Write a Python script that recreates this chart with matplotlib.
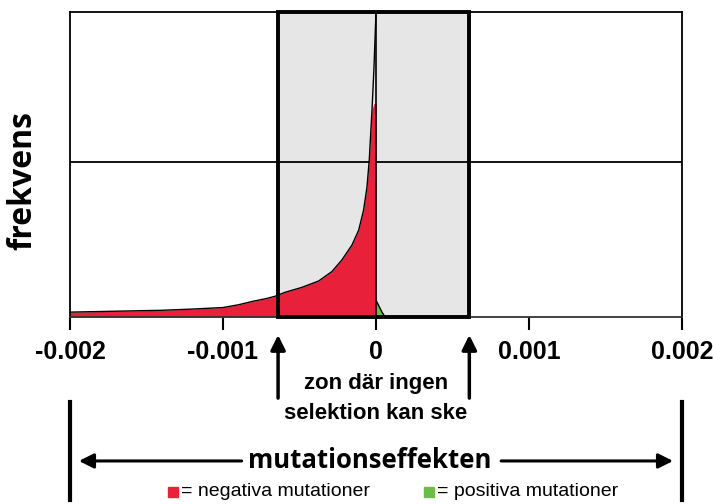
import matplotlib.pyplot as plt
import numpy as np
from matplotlib.patches import Rectangle

# negative mutation effects (left tail)
x_neg = [-0.002, -0.0018, -0.0016, -0.0014, -0.0012, -0.001, -0.0009,
         -0.0008, -0.00072, -0.00066, -0.000594, -0.000485, -0.000375,
         -0.000288, -0.000223, -0.000157, -0.000113, -0.000081, -0.000059,
         -0.000044, -0.000026, -0.000013, 0.0]
y_neg = [0.016, 0.018, 0.020, 0.022, 0.026, 0.031, 0.040,
         0.052, 0.060, 0.068, 0.081, 0.097, 0.118,
         0.149, 0.187, 0.236, 0.285, 0.351, 0.426,
         0.515, 0.68, 0.82, 1.0]
# the tiny positive part
x_pos = [0.0, 0.00002, 0.00004, 0.00006]
y_pos = [0.055, 0.035, 0.015, 0.0]

red_cap = 0.70              # red fill stops here, outline keeps going
zone = (-0.00064, 0.00061)  # zone where no selection can happen
grid_y = 0.508

ticks = [-0.002, -0.001, 0, 0.001, 0.002]
tick_labels = ['-0.002', '-0.001', '0', '0.001', '0.002']

red = '#e8203a'
green = '#6cbd45'

fig = plt.figure(figsize=(7.13, 5.04), dpi=100)
ax = fig.add_axes([70 / 713, 187 / 504, 612 / 713, 305 / 504])
ax.set_xlim(-0.002, 0.002)
ax.set_ylim(0, 1)

# grey zone with thick frame
ax.axvspan(zone[0], zone[1], color='#e6e6e6', zorder=0)
ax.add_patch(Rectangle((zone[0], 0), zone[1] - zone[0], 1, fill=False,
                       edgecolor='black', lw=2.8, zorder=5, clip_on=False))

ax.axhline(grid_y, color='black', lw=1.3, zorder=1)
ax.axvline(0, color='black', lw=1.2, zorder=4)

ax.fill_between(x_neg, 0, np.minimum(y_neg, red_cap), color=red, lw=0, zorder=2)
ax.fill_between(x_pos, 0, y_pos, color=green, lw=0, zorder=2)
ax.plot(x_neg, y_neg, color='black', lw=1.0, zorder=3)
ax.plot(x_pos, y_pos, color='black', lw=1.0, zorder=3)

for s in ax.spines.values():
    s.set_linewidth(1.3)
ax.spines['bottom'].set_color('#333333')

ax.set_yticks([])
ax.set_xticks(ticks)
ax.set_xticklabels(tick_labels, fontsize=18, fontweight='bold',
                   family='Liberation Sans')
ax.tick_params(axis='x', direction='out', length=9.5, width=1.5, pad=7)

tr = ax.get_xaxis_transform()

# arrows pointing at the zone edges
for xe in zone:
    ax.annotate('', xy=(xe, -0.05), xytext=(xe, -0.275), xycoords=tr,
                textcoords=tr, annotation_clip=False,
                arrowprops=dict(arrowstyle='-|>', color='black', lw=2.5,
                                mutation_scale=22))

ax.text(0, -0.266, 'zon där ingen\nselektion kan ske', transform=tr,
        ha='center', va='center', fontsize=16, fontweight='bold',
        family='Liberation Sans', linespacing=1.55)

# x-axis caption with double arrows and end bars
ax.text(-0.00004, -0.472, 'mutationseffekten', transform=tr, ha='center',
        va='center', fontsize=18.5, fontweight='bold', family='Open Sans')
ax.annotate('', xy=(-0.00196, -0.472), xytext=(-0.00086, -0.472), xycoords=tr,
            textcoords=tr, annotation_clip=False,
            arrowprops=dict(arrowstyle='-|>', color='black', lw=2.2,
                            mutation_scale=22))
ax.annotate('', xy=(0.00196, -0.472), xytext=(0.00080, -0.472), xycoords=tr,
            textcoords=tr, annotation_clip=False,
            arrowprops=dict(arrowstyle='-|>', color='black', lw=2.2,
                            mutation_scale=22))
for xe in [-0.002, 0.002]:
    ax.plot([xe, xe], [-0.279, -0.60], transform=tr, color='black', lw=3,
            clip_on=False)

fig.text(23 / 713, 324 / 504, 'frekvens', rotation=90, ha='center',
         va='center', fontsize=23, fontweight='bold', family='Open Sans')

# legend-like key
fig.add_artist(Rectangle((168 / 713, 7 / 504), 10 / 713, 10 / 504,
                         color=red, transform=fig.transFigure))
fig.text(181 / 713, 12 / 504, '= negativa mutationer', va='center',
         fontsize=14, family='Liberation Sans')
fig.add_artist(Rectangle((424 / 713, 7 / 504), 10 / 713, 10 / 504,
                         color=green, transform=fig.transFigure))
fig.text(437 / 713, 12 / 504, '= positiva mutationer', va='center',
         fontsize=14, family='Liberation Sans')

plt.savefig('out.png', dpi=100)
